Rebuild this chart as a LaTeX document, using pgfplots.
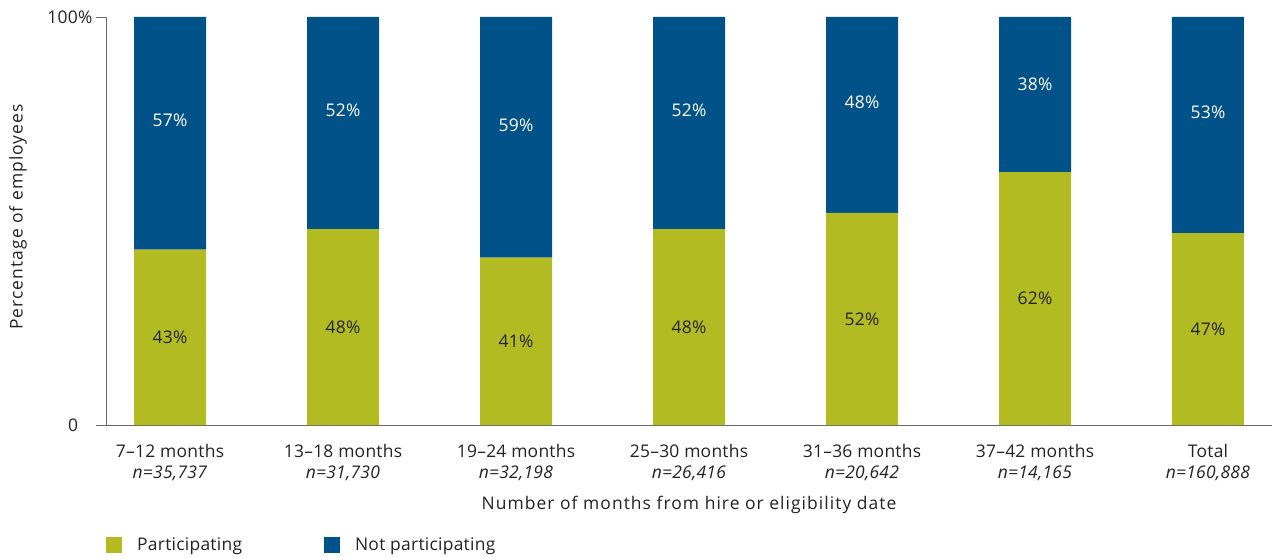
\documentclass[border=0pt]{standalone}
\usepackage{pgfplots}
\pgfplotsset{compat=1.18}
\usepackage{fontspec}
\setmainfont{Open Sans}[LetterSpace=1.5]
\newfontfamily\spaced{Open Sans}[LetterSpace=6]
\definecolor{partgreen}{RGB}{178,188,34}
\definecolor{notblue}{RGB}{0,82,136}
\definecolor{axisgray}{RGB}{105,105,105}
\definecolor{txt}{RGB}{35,35,35}
\newcommand{\fs}{\fontsize{17.5}{21}\selectfont}
\begin{document}
\begin{tikzpicture}
\useasboundingbox (-106bp,-133bp) rectangle (1170bp,425bp);
\pgfplotsset{
  common/.style={
    scale only axis, width=1166bp, height=408bp,
    xmin=-0.37, xmax=6.37, ymin=0, ymax=100,
  }
}
\begin{axis}[common,
  ybar stacked, bar width=72bp,
  axis x line*=bottom, axis y line*=left,
  axis line style={axisgray, line width=0.9bp, -},
  xtick={0,1,2,3,4,5,6},
  xtick style={draw=none},
  xticklabels={{7–12 months\\\textit{n=35,737}},
               {13–18 months\\\textit{n=31,730}},
               {19–24 months\\\textit{n=32,198}},
               {25–30 months\\\textit{n=26,416}},
               {31–36 months\\\textit{n=20,642}},
               {37–42 months\\\textit{n=14,165}},
               {Total\\\textit{n=160,888}}},
  xticklabel style={align=center, font=\fs, text=txt, yshift=-6bp},
  ytick={0,100}, yticklabels={0\phantom{\%},100\%},
  yticklabel style={font=\fs, text=txt},
  ytick style={axisgray, line width=0.9bp},
  tick align=outside, major tick length=10bp,
  xlabel={Number of months from hire or eligibility date},
  xlabel style={font=\fs\spaced, text=txt, yshift=-8bp},
  ylabel={Percentage of employees},
  ylabel style={font=\fs\spaced, text=txt, at={(axis description cs:0,0.51)}, anchor=center, yshift=88bp},
  legend columns=2,
  legend image code/.code={\fill[#1] (0bp,-8bp) rectangle (16bp,8bp);},
  legend style={at={(axis description cs:0,0)}, anchor=west, yshift=-120bp,
    draw=none, fill=none, inner sep=0pt, font=\fs, text=txt,
    /tikz/every odd column/.append style={column sep=13bp},
    /tikz/every even column/.append style={column sep=80bp}},
]
\addplot[fill=partgreen, draw=none] coordinates {(0,43) (1,48) (2,41) (3,48) (4,52) (5,62) (6,47)};
\addlegendentry{Participating}
\addplot[fill=notblue, draw=none] coordinates {(0,57) (1,52) (2,59) (3,52) (4,48) (5,38) (6,53)};
\addlegendentry{Not participating}
\end{axis}
\begin{axis}[common, hide axis]
\addplot[draw=none, nodes near coords, point meta=explicit symbolic,
  every node near coord/.append style={anchor=center, font=\fs, text=txt}]
  coordinates {(0,21.5) [43\%] (1,24) [48\%] (2,20.5) [41\%] (3,24) [48\%] (4,26) [52\%] (5,31) [62\%] (6,23.5) [47\%]};
\addplot[draw=none, nodes near coords, point meta=explicit symbolic,
  every node near coord/.append style={anchor=center, font=\fs, text=white}]
  coordinates {(0,74.8) [57\%] (1,77.2) [52\%] (2,73.5) [59\%] (3,77.2) [52\%] (4,79) [48\%] (5,83.5) [38\%] (6,76.6) [53\%]};
\end{axis}
\end{tikzpicture}
\end{document}
